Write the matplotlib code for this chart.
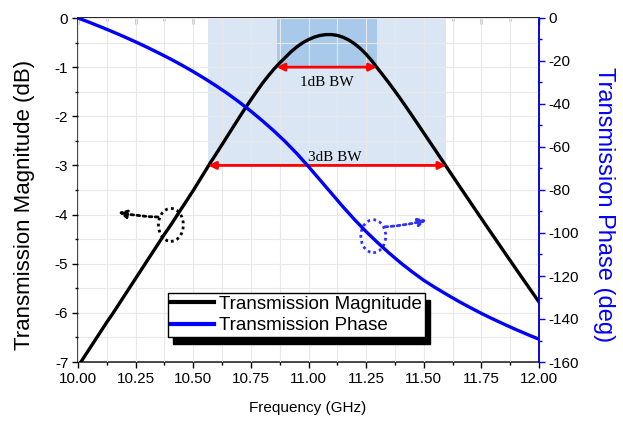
import numpy as np
import matplotlib
matplotlib.use("Agg")
import matplotlib.pyplot as plt
from matplotlib.patches import Ellipse, Rectangle
from matplotlib.ticker import MultipleLocator, FormatStrFormatter
from matplotlib.transforms import IdentityTransform

plt.rcParams["font.family"] = ["Liberation Sans", "DejaVu Sans"]
plt.rcParams["axes.unicode_minus"] = False

# Frequency sweep for the magnitude trace (GHz, 25 MHz steps)
freq_mag = [10.000, 10.025, 10.050, 10.075, 10.100, 10.125, 10.150, 10.175, 10.200, 10.225,
            10.250, 10.275, 10.300, 10.325, 10.350, 10.375, 10.400, 10.425, 10.450, 10.475,
            10.500, 10.525, 10.550, 10.575, 10.600, 10.625, 10.650, 10.675, 10.700, 10.725,
            10.750, 10.775, 10.800, 10.825, 10.850, 10.875, 10.900, 10.925, 10.950, 10.975,
            11.000, 11.025, 11.050, 11.075, 11.100, 11.125, 11.150, 11.175, 11.200, 11.225,
            11.250, 11.275, 11.300, 11.325, 11.350, 11.375, 11.400, 11.425, 11.450, 11.475,
            11.500, 11.525, 11.550, 11.575, 11.600, 11.625, 11.650, 11.675, 11.700, 11.725,
            11.750, 11.775, 11.800, 11.825, 11.850, 11.875, 11.900, 11.925, 11.950, 11.975,
            12.000]

# |S21| in dB
magnitude_db = [-7.09, -6.91, -6.73, -6.55, -6.37, -6.19, -6.02, -5.84, -5.66, -5.48,
                -5.30, -5.12, -4.94, -4.76, -4.58, -4.40, -4.23, -4.05, -3.87, -3.69,
                -3.51, -3.32, -3.13, -2.94, -2.76, -2.575, -2.39, -2.205, -2.02, -1.84,
                -1.665, -1.495, -1.33, -1.18, -1.04, -0.915, -0.80, -0.683, -0.586, -0.504,
                -0.439, -0.389, -0.355, -0.338, -0.337, -0.354, -0.392, -0.448, -0.525, -0.621,
                -0.737, -0.872, -1.027, -1.175, -1.328, -1.487, -1.651, -1.820, -1.992, -2.165,
                -2.339, -2.513, -2.688, -2.863, -3.038, -3.213, -3.388, -3.562, -3.735, -3.908,
                -4.081, -4.253, -4.424, -4.595, -4.766, -4.936, -5.106, -5.275, -5.443, -5.611,
                -5.779]

# Frequency sweep for the phase trace (GHz, 50 MHz steps)
freq_phase = [10.00, 10.05, 10.10, 10.15, 10.20, 10.25, 10.30, 10.35, 10.40, 10.45,
              10.50, 10.55, 10.60, 10.65, 10.70, 10.75, 10.80, 10.85, 10.90, 10.95,
              11.00, 11.05, 11.10, 11.15, 11.20, 11.25, 11.30, 11.35, 11.40, 11.45,
              11.50, 11.55, 11.60, 11.65, 11.70, 11.75, 11.80, 11.85, 11.90, 11.95,
              12.00]

# S21 phase in degrees
phase_deg = [0.0, -2.04, -4.18, -6.39, -8.70, -11.11, -13.63, -16.26, -19.00, -21.89,
             -24.95, -28.19, -31.60, -35.24, -39.15, -43.34, -47.80, -52.53, -57.60, -63.13,
             -69.10, -75.35, -81.60, -87.85, -93.80, -99.35, -104.50, -109.35, -113.90, -118.10,
             -122.00, -125.40, -128.60, -131.70, -134.60, -137.40, -140.00, -142.50, -144.90, -147.20,
             -149.40]

# Bandwidth edges (GHz) and their levels (dB)
bw3_edges = [10.565, 11.597]
bw3_level = -3.0
bw1_edges = [10.862, 11.296]
bw1_level = -1.0

fig = plt.figure(figsize=(6.23, 4.22), dpi=100)
ax = fig.add_axes([78 / 623, 1 - 362 / 422, 461 / 623, 344 / 422])
ax2 = ax.twinx()

# bandwidth shading
ax.fill_between(bw3_edges, [bw3_level, bw3_level], [0, 0], color="#dae6f4", lw=0, zorder=0.3)
ax.fill_between(bw1_edges, [bw1_level, bw1_level], [0, 0], color="#a9c9ea", lw=0, zorder=0.4)

ax.set_xlim(10, 12)
ax.set_ylim(-7, 0)
ax2.set_ylim(-160, 0)

ax.xaxis.set_major_locator(MultipleLocator(0.25))
ax.xaxis.set_minor_locator(MultipleLocator(0.125))
ax.xaxis.set_major_formatter(FormatStrFormatter("%.2f"))
ax.yaxis.set_major_locator(MultipleLocator(1))
ax.yaxis.set_minor_locator(MultipleLocator(0.5))
ax.yaxis.set_major_formatter(FormatStrFormatter("%d"))
ax2.yaxis.set_major_locator(MultipleLocator(20))
ax2.yaxis.set_minor_locator(MultipleLocator(10))

ax.grid(True, which="both", color="#e8e8e8", lw=0.8)
ax.set_axisbelow(False)
for gl in ax.get_xgridlines() + ax.get_ygridlines():
    gl.set_zorder(0.6)

ax.tick_params(axis="both", which="major", labelsize=11, length=4, width=1, direction="out", pad=3)
ax.tick_params(axis="both", which="minor", length=2.5, width=1, direction="out")
ax2.tick_params(axis="y", which="major", labelsize=11, length=4, width=1, colors="blue",
                labelcolor="black", direction="out", pad=3)
ax2.tick_params(axis="y", which="minor", length=2.5, width=1, colors="blue", direction="out")

# inward ticks along the top edge
top = ax.secondary_xaxis("top")
top.xaxis.set_major_locator(MultipleLocator(0.25))
top.xaxis.set_minor_locator(MultipleLocator(0.125))
top.tick_params(axis="x", which="major", direction="in", length=4.5, width=1, labeltop=False)
top.tick_params(axis="x", which="minor", direction="in", length=2.5, width=1)
top.spines["top"].set_linewidth(1.2)
top.spines["top"].set_color("#222222")

for s in ax.spines.values():
    s.set_linewidth(1.2)
    s.set_color("#222222")
ax2.spines["right"].set_color("blue")
ax2.spines["right"].set_linewidth(1.2)
for k in ["left", "top", "bottom"]:
    ax2.spines[k].set_visible(False)

line_mag, = ax.plot(freq_mag, magnitude_db, color="black", lw=2.4, zorder=3,
                    label="Transmission Magnitude")
line_ph, = ax2.plot(freq_phase, phase_deg, color="blue", lw=2.4, zorder=3,
                    label="Transmission Phase")

# bandwidth arrows
arrow_kw = dict(arrowstyle="<|-|>", color="red", lw=2.0, mutation_scale=11,
                shrinkA=0, shrinkB=0)
ax.annotate("", xy=(bw1_edges[1], bw1_level), xytext=(bw1_edges[0], bw1_level),
            arrowprops=arrow_kw, zorder=4)
ax.annotate("", xy=(bw3_edges[1], bw3_level), xytext=(bw3_edges[0], bw3_level),
            arrowprops=arrow_kw, zorder=4)
ax.text(11.08, -1.32, "1dB BW", family=["Liberation Serif"], fontsize=11,
        ha="center", va="center", zorder=5)
ax.text(11.115, -2.84, "3dB BW", family=["Liberation Serif"], fontsize=11,
        ha="center", va="center", zorder=5)

# curve markers pointing to their axes
ax.add_patch(Ellipse((10.403, -4.21), 0.108, 0.67, fill=False, ec="black",
                     ls=(0, (1, 1.2)), lw=2.0, zorder=5))
ax.annotate("", xy=(10.174, -3.95), xytext=(10.347, -4.05),
            arrowprops=dict(arrowstyle="-|>", color="black", lw=2.0, ls=(0, (1, 1.2)),
                            mutation_scale=12, shrinkA=0, shrinkB=0,
                            connectionstyle="arc3,rad=-0.05"), zorder=5)
ax.add_patch(Ellipse((11.281, -4.44), 0.108, 0.67, fill=False, ec="#3030ff",
                     ls=(0, (1, 1.2)), lw=2.0, zorder=5))
ax.annotate("", xy=(11.513, -4.11), xytext=(11.332, -4.25),
            arrowprops=dict(arrowstyle="-|>", color="#3030ff", lw=2.0, ls=(0, (1, 1.2)),
                            mutation_scale=12, shrinkA=0, shrinkB=0,
                            connectionstyle="arc3,rad=0.05"), zorder=5)

# legend with solid drop shadow
leg = ax2.legend(handles=[line_mag, line_ph], loc="upper left",
                 bbox_to_anchor=(0.195, 0.2006), borderaxespad=0, fontsize=13.5,
                 handlelength=2.3, handletextpad=0.3, labelspacing=0.22,
                 borderpad=0.15, fancybox=False, framealpha=1, edgecolor="black")
leg.get_frame().set_linewidth(1.0)
leg.set_zorder(10)
for h in leg.legend_handles:
    h.set_linewidth(3)

fig.canvas.draw()
bb = leg.get_window_extent()
shadow = Rectangle((bb.x0 + 5, bb.y0 - 7), bb.width, bb.height, transform=IdentityTransform(),
                   color="black", zorder=9, clip_on=False)
ax2.add_patch(shadow)

fig.text(25 / 623, 1 - 205 / 422, "Transmission Magnitude (dB)", rotation=90,
         ha="center", va="center", fontsize=16)
fig.text(604 / 623, 1 - 205 / 422, "Transmission Phase (deg)", rotation=270,
         ha="center", va="center", fontsize=17, color="blue")
fig.text(308 / 623, 1 - 408 / 422, "Frequency (GHz)", ha="center", va="center", fontsize=11)

fig.savefig("out.png", dpi=100)
